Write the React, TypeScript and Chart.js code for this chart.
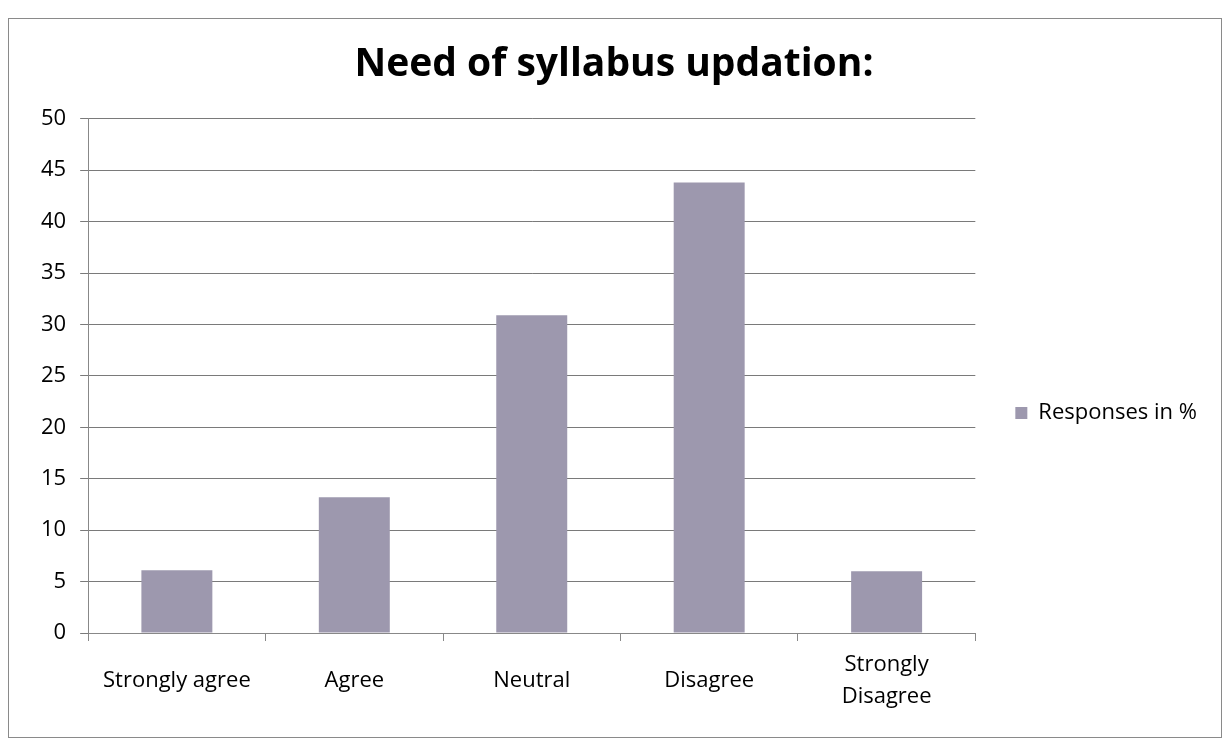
import React, { useEffect, useRef } from "react";
import { Chart, registerables } from "chart.js";

Chart.register(...registerables);

const chartTitle = "Need of syllabus updation:";
const categories: (string | string[])[] = ["Strongly agree", "Agree", "Neutral", "Disagree", ["Strongly", "Disagree"]];
const seriesName = "Responses in %";
const responses = [6.1, 13.2, 30.9, 43.8, 6.0];
const yMin = 0;
const yMax = 50;
const yStep = 5;

const FONT = "'Open Sans', 'Noto Sans', sans-serif";

export default function App() {
  const canvasRef = useRef<HTMLCanvasElement | null>(null);

  useEffect(() => {
    const canvas = canvasRef.current;
    if (!canvas) return;
    const chart = new Chart(canvas, {
      type: "bar",
      data: {
        labels: categories,
        datasets: [
          {
            label: seriesName,
            data: responses,
            backgroundColor: "#9d98ae",
            borderWidth: 0,
            barPercentage: 0.8,
            categoryPercentage: 0.5,
          },
        ],
      },
      options: {
        animation: false,
        responsive: true,
        maintainAspectRatio: false,
        layout: { padding: { top: 22, left: 18, right: 20, bottom: 23 } },
        plugins: {
          title: {
            display: true,
            text: chartTitle,
            color: "#000",
            font: { family: FONT, size: 39, weight: "bold" },
            padding: { top: 0, bottom: 31 },
          },
          legend: {
            position: "right",
            title: { display: true, text: "", font: { size: 10 }, padding: { top: 0, bottom: 59 } },
            labels: {
              color: "#000",
              boxWidth: 12,
              boxHeight: 12,
              padding: 10,
              font: { family: FONT, size: 22 },
            },
          },
          tooltip: { enabled: false },
        },
        scales: {
          x: {
            grid: { drawOnChartArea: false, offset: true, tickLength: 8, color: "#888" },
            border: { color: "#888" },
            ticks: {
              color: "#000",
              font: { family: FONT, size: 22, lineHeight: 1.45 },
              padding: 24,
              maxRotation: 0,
              autoSkip: false,
              crossAlign: "center",
            },
            afterFit: (s: any) => {
              s.height = 81;
            },
          },
          y: {
            min: yMin,
            max: yMax,
            grid: { color: "#7a7a7a", tickLength: 8 },
            border: { color: "#888" },
            ticks: { stepSize: yStep, color: "#000", font: { family: FONT, size: 22 }, padding: 14 },
          },
          gap: {
            type: "linear",
            position: "right",
            display: true,
            grid: { display: false },
            border: { display: false },
            ticks: { display: false },
            afterFit: (s: any) => {
              s.width = 30;
            },
          },
        },
      },
    });
    return () => chart.destroy();
  }, []);

  return (
    <div
      style={{
        position: "absolute",
        left: 8,
        top: 18,
        width: 1214,
        height: 720,
        border: "1px solid #8a8a8a",
        boxSizing: "border-box",
        background: "#fff",
      }}
    >
      <canvas ref={canvasRef} style={{ width: "100%", height: "100%" }} />
    </div>
  );
}
